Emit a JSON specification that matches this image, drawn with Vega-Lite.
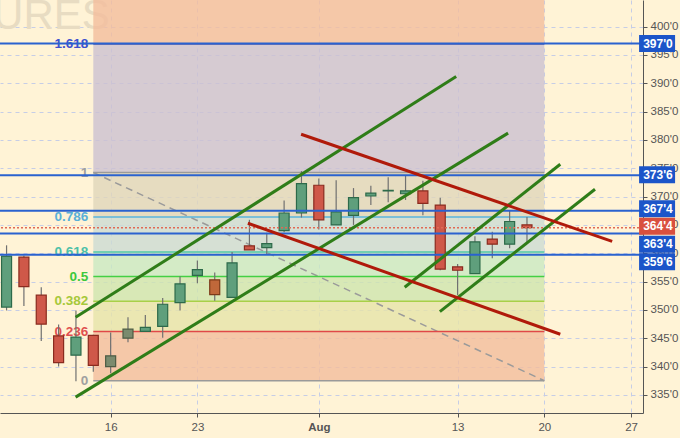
{
  "$schema": "https://vega.github.io/schema/vega-lite/v6.json",
  "width": 643,
  "height": 413,
  "autosize": {"type": "none"},
  "padding": {"left": 0, "top": 0, "right": 37, "bottom": 25},
  "background": "#fff3d6",
  "config": {
    "view": {"stroke": null},
    "axis": {
      "gridDash": [4, 4], "gridColor": "#c6cde6", "gridWidth": 1,
      "domainColor": "#555555", "tickColor": "#555555", "tickSize": 4,
      "labelColor": "#555555", "labelFont": "Liberation Sans", "labelFontSize": 11.5, "title": null,
      "labelOverlap": false, "labelBound": false
    }
  },
  "datasets": {
    "candles": [
      {"i": -6, "o": 350.5, "h": 361.4, "l": 349.9, "c": 359.5, "s": "up"},
      {"i": -5, "o": 359.3, "h": 359.6, "l": 350.7, "c": 354.1, "s": "down"},
      {"i": -4, "o": 352.6, "h": 354.0, "l": 344.5, "c": 347.5, "s": "down"},
      {"i": -3, "o": 345.4, "h": 347.4, "l": 340.0, "c": 340.7, "s": "down"},
      {"i": -2, "o": 342.0, "h": 349.9, "l": 337.4, "c": 345.2, "s": "up"},
      {"i": -1, "o": 345.5, "h": 345.6, "l": 339.1, "c": 340.2, "s": "down"},
      {"i": 0, "o": 340.0, "h": 346.0, "l": 338.8, "c": 341.9, "s": "flat"},
      {"i": 1, "o": 345.0, "h": 348.7, "l": 344.3, "c": 346.6, "s": "flat"},
      {"i": 2, "o": 346.2, "h": 349.1, "l": 346.2, "c": 346.9, "s": "up"},
      {"i": 3, "o": 347.1, "h": 352.1, "l": 345.1, "c": 351.0, "s": "up"},
      {"i": 4, "o": 351.3, "h": 355.9, "l": 349.9, "c": 354.6, "s": "up"},
      {"i": 5, "o": 356.1, "h": 358.7, "l": 354.7, "c": 357.1, "s": "up"},
      {"i": 6, "o": 355.3, "h": 356.6, "l": 351.6, "c": 352.7, "s": "weak"},
      {"i": 7, "o": 352.2, "h": 360.2, "l": 352.2, "c": 358.3, "s": "up"},
      {"i": 8, "o": 361.3, "h": 365.9, "l": 360.6, "c": 360.6, "s": "down"},
      {"i": 9, "o": 361.0, "h": 363.6, "l": 359.7, "c": 361.7, "s": "up"},
      {"i": 10, "o": 364.0, "h": 369.3, "l": 363.7, "c": 367.1, "s": "up"},
      {"i": 11, "o": 367.1, "h": 374.5, "l": 366.3, "c": 372.3, "s": "up"},
      {"i": 12, "o": 372.0, "h": 373.2, "l": 364.2, "c": 365.9, "s": "down"},
      {"i": 13, "o": 365.0, "h": 372.9, "l": 365.0, "c": 367.3, "s": "up"},
      {"i": 14, "o": 366.7, "h": 371.5, "l": 365.0, "c": 369.8, "s": "up"},
      {"i": 15, "o": 370.1, "h": 371.9, "l": 368.5, "c": 370.6, "s": "up"},
      {"i": 16, "o": 371.0, "h": 373.4, "l": 369.0, "c": 371.1, "s": "up"},
      {"i": 17, "o": 370.5, "h": 373.8, "l": 369.4, "c": 371.0, "s": "up"},
      {"i": 18, "o": 371.0, "h": 372.8, "l": 366.7, "c": 368.8, "s": "down"},
      {"i": 19, "o": 368.5, "h": 369.8, "l": 357.0, "c": 357.2, "s": "down"},
      {"i": 20, "o": 357.6, "h": 358.1, "l": 352.6, "c": 357.0, "s": "down"},
      {"i": 21, "o": 356.4, "h": 363.0, "l": 356.4, "c": 362.0, "s": "up"},
      {"i": 22, "o": 362.5, "h": 363.8, "l": 359.1, "c": 361.6, "s": "down"},
      {"i": 23, "o": 361.6, "h": 367.6, "l": 360.9, "c": 365.6, "s": "up"},
      {"i": 24, "o": 365.0, "h": 366.4, "l": 362.0, "c": 364.5, "s": "down"}
    ],
    "zones": [
      {"z": "z7", "lo": 396.96, "hi": 405},
      {"z": "z6", "lo": 374.25, "hi": 396.96},
      {"z": "z5", "lo": 366.39, "hi": 374.25},
      {"z": "z4", "lo": 360.21, "hi": 366.39},
      {"z": "z3", "lo": 355.875, "hi": 360.21},
      {"z": "z2", "lo": 351.54, "hi": 355.875},
      {"z": "z1", "lo": 346.17, "hi": 351.54},
      {"z": "z0", "lo": 337.5, "hi": 346.17}
    ],
    "levels": [
      {"r": "1.618", "p": 396.96},
      {"r": "1", "p": 374.25},
      {"r": "0.786", "p": 366.39},
      {"r": "0.618", "p": 360.21},
      {"r": "0.5", "p": 355.875},
      {"r": "0.382", "p": 351.54},
      {"r": "0.236", "p": 346.17},
      {"r": "0", "p": 337.5}
    ],
    "diag": [
      {"i": -1, "p": 374.25},
      {"i": 25, "p": 337.5}
    ],
    "hlines": [
      {"p": 397.0}, {"p": 373.75}, {"p": 367.5}, {"p": 363.5}, {"p": 359.75}
    ],
    "trend": [
      {"id": "g1", "k": "up", "i": -2.02, "p": 348.7},
      {"id": "g1", "k": "up", "i": 19.92, "p": 391.2},
      {"id": "g2", "k": "up", "i": -2.02, "p": 334.6},
      {"id": "g2", "k": "up", "i": 22.91, "p": 381.2},
      {"id": "g3", "k": "up", "i": 16.95, "p": 354.0},
      {"id": "g3", "k": "up", "i": 25.92, "p": 375.7},
      {"id": "g4", "k": "up", "i": 18.98, "p": 349.7},
      {"id": "g4", "k": "up", "i": 27.92, "p": 371.3},
      {"id": "r1", "k": "down", "i": 10.98, "p": 381.0},
      {"id": "r1", "k": "down", "i": 28.91, "p": 362.1},
      {"id": "r2", "k": "down", "i": 7.91, "p": 365.3},
      {"id": "r2", "k": "down", "i": 25.92, "p": 345.7}
    ],
    "tags": [
      {"p": 397.0, "tagAt": 397.0, "t": "397'0", "k": "level"},
      {"p": 373.75, "tagAt": 373.85, "t": "373'6", "k": "level"},
      {"p": 367.5, "tagAt": 367.85, "t": "367'4", "k": "level"},
      {"p": 364.5, "tagAt": 364.75, "t": "364'4", "k": "last"},
      {"p": 363.5, "tagAt": 361.6, "t": "363'4", "k": "level"},
      {"p": 359.75, "tagAt": 358.5, "t": "359'6", "k": "level"}
    ]
  },
  "resolve": {"scale": {"color": "independent", "fill": "independent", "stroke": "independent"}},
  "layer": [
    {
      "data": {"values": [{"w": "FUTURES"}]},
      "mark": {"type": "text", "align": "right", "baseline": "alphabetic", "fontSize": 42, "font": "Liberation Sans", "color": "#e8dcc2"},
      "encoding": {
        "x": {"datum": -0.05, "type": "quantitative", "scale": {"domain": [-6.09, 30.4], "nice": false, "zero": false},
          "axis": {"values": [0, 5, 12, 20, 25, 30], "tickCount": 40, "labelExpr": "datum.value == 0 ? '16' : datum.value == 5 ? '23' : datum.value == 12 ? 'Aug' : datum.value == 20 ? '13' : datum.value == 25 ? '20' : '27'", "labelFontWeight": {"expr": "datum.value == 12 ? 'bold' : 'normal'"}, "grid": true, "orient": "bottom", "labelPadding": 4}},
        "y": {"datum": 399.6, "type": "quantitative", "scale": {"domain": [331.8, 404.7], "nice": false, "zero": false},
          "axis": {"orient": "right", "values": [335, 340, 345, 350, 355, 360, 365, 370, 375, 380, 385, 390, 395, 400], "tickCount": 40, "labelExpr": "datum.value + \"'0\"", "grid": true, "labelPadding": 3, "labelOverlap": false, "labelBound": false}},
        "text": {"field": "w"}
      }
    },
    {
      "data": {"name": "zones"},
      "mark": {"type": "rect", "clip": true, "opacity": 0.8},
      "encoding": {
        "x": {"datum": -1, "type": "quantitative"},
        "x2": {"datum": 25},
        "y": {"field": "lo", "type": "quantitative", "title": null},
        "y2": {"field": "hi"},
        "color": {"field": "z", "type": "nominal", "legend": null,
          "scale": {"domain": ["z7", "z6", "z5", "z4", "z3", "z2", "z1", "z0"],
            "range": ["#f2bd9c", "#ccc1d1", "#e0d6ba", "#ccdbd3", "#c9e9c2", "#cee5ae", "#e6e4a9", "#f2bd9c"]}}
      }
    },
    {
      "data": {"name": "diag"},
      "mark": {"type": "line", "strokeDash": [7, 5], "strokeWidth": 1.5, "color": "#9a9a9a"},
      "encoding": {
        "x": {"field": "i", "type": "quantitative", "title": null},
        "y": {"field": "p", "type": "quantitative", "title": null}
      }
    },
    {
      "data": {"name": "levels"},
      "mark": {"type": "rule", "strokeWidth": 1.5},
      "encoding": {
        "x": {"datum": -1, "type": "quantitative"},
        "x2": {"datum": 25},
        "y": {"field": "p", "type": "quantitative", "title": null},
        "color": {"field": "r", "type": "nominal", "legend": null,
          "scale": {"domain": ["1.618", "1", "0.786", "0.618", "0.5", "0.382", "0.236", "0"],
            "range": ["#2b2b8c", "#9a9a9a", "#5ab4dc", "#50c8a8", "#44d044", "#a8d048", "#e04848", "#9a9a9a"]}}
      }
    },
    {
      "data": {"name": "levels"},
      "mark": {"type": "text", "align": "right", "baseline": "middle", "dx": -5, "fontSize": 13.5, "fontWeight": "bold", "font": "Liberation Sans"},
      "encoding": {
        "x": {"datum": -1, "type": "quantitative"},
        "y": {"field": "p", "type": "quantitative", "title": null},
        "text": {"field": "r"},
        "color": {"field": "r", "type": "nominal", "legend": null,
          "scale": {"domain": ["1.618", "1", "0.786", "0.618", "0.5", "0.382", "0.236", "0"],
            "range": ["#3d50cf", "#a0a0a0", "#5ab0d8", "#4cc0a8", "#3cc83c", "#a6c83a", "#e05050", "#a0a0a0"]}}
      }
    },
    {
      "data": {"name": "candles"},
      "mark": {"type": "rule", "color": "#707070", "strokeWidth": 1.2},
      "encoding": {
        "x": {"field": "i", "type": "quantitative", "title": null},
        "y": {"field": "l", "type": "quantitative", "title": null},
        "y2": {"field": "h"}
      }
    },
    {
      "data": {"name": "candles"},
      "mark": {"type": "bar", "width": 10, "strokeWidth": 1.2},
      "encoding": {
        "x": {"field": "i", "type": "quantitative", "title": null},
        "y": {"field": "o", "type": "quantitative", "title": null},
        "y2": {"field": "c"},
        "fill": {"field": "s", "type": "nominal", "legend": null,
          "scale": {"domain": ["up", "down", "flat", "weak"], "range": ["#5f9f7c", "#cf5849", "#7b8b6e", "#c0683a"]}},
        "stroke": {"field": "s", "type": "nominal", "legend": null,
          "scale": {"domain": ["up", "down", "flat", "weak"], "range": ["#2d6a4a", "#8a2b1f", "#4d5c44", "#7c3a18"]}}
      }
    },
    {
      "data": {"name": "hlines"},
      "mark": {"type": "rule", "color": "#2a62cf", "strokeWidth": 2},
      "encoding": {
        "y": {"field": "p", "type": "quantitative", "title": null}
      }
    },
    {
      "data": {"values": [{"p": 364.5}]},
      "mark": {"type": "rule", "color": "#e06a55", "strokeWidth": 1.5, "strokeDash": [2, 2]},
      "encoding": {
        "y": {"field": "p", "type": "quantitative", "title": null}
      }
    },
    {
      "data": {"name": "trend"},
      "mark": {"type": "line", "strokeWidth": 3, "clip": true},
      "encoding": {
        "x": {"field": "i", "type": "quantitative", "title": null},
        "y": {"field": "p", "type": "quantitative", "title": null},
        "detail": {"field": "id"},
        "color": {"field": "k", "type": "nominal", "legend": null,
          "scale": {"domain": ["up", "down"], "range": ["#2f7d18", "#b01a0a"]}}
      }
    },
    {
      "data": {"name": "tags"},
      "mark": {"type": "tick", "orient": "vertical", "size": 17, "thickness": 36, "opacity": 1, "clip": false},
      "encoding": {
        "x": {"datum": 31.5, "type": "quantitative"},
        "y": {"field": "tagAt", "type": "quantitative", "title": null},
        "color": {"field": "k", "type": "nominal", "legend": null,
          "scale": {"domain": ["level", "last"], "range": ["#1c55c9", "#d9503f"]}}
      }
    },
    {
      "data": {"name": "tags"},
      "mark": {"type": "text", "align": "center", "baseline": "middle", "fontSize": 12, "fontWeight": "bold", "font": "Liberation Sans", "color": "#ffffff", "clip": false},
      "encoding": {
        "x": {"datum": 31.55, "type": "quantitative"},
        "y": {"field": "tagAt", "type": "quantitative", "title": null},
        "text": {"field": "t"}
      }
    }
  ]
}
